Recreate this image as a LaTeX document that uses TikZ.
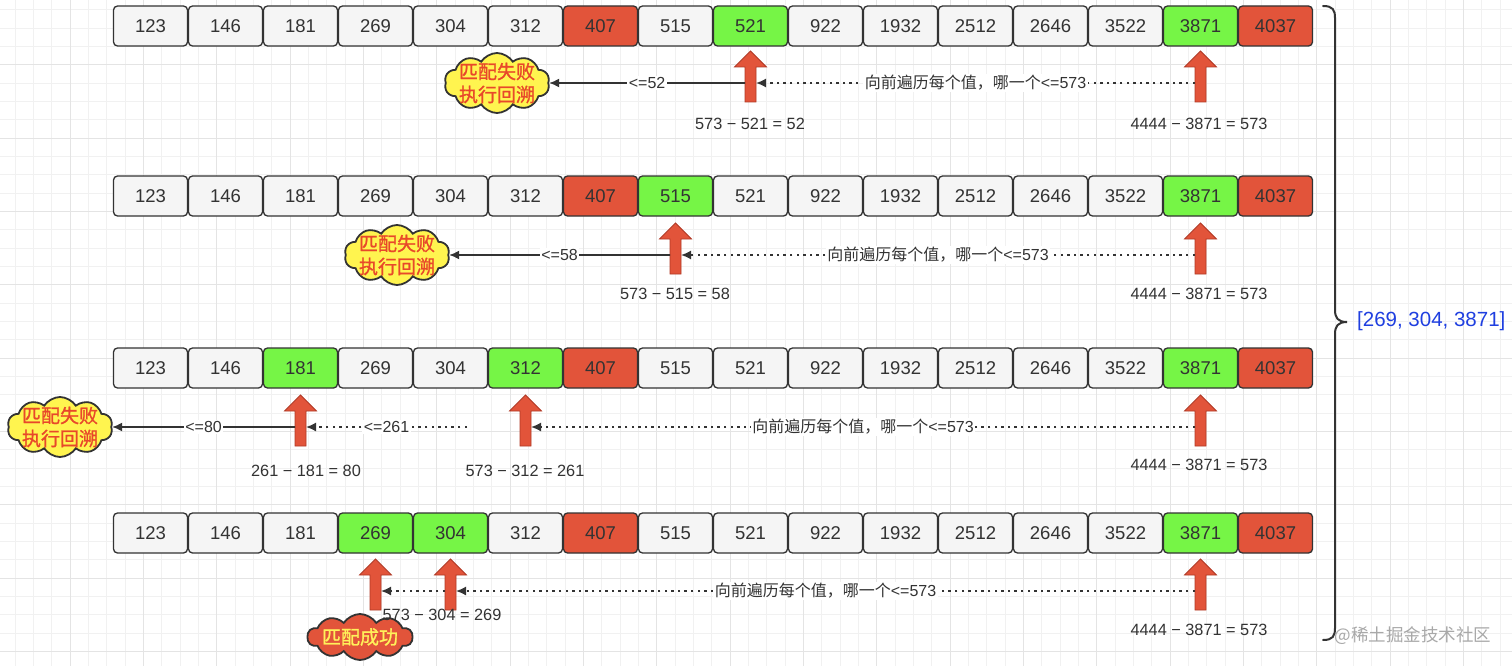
\documentclass[tikz,border=0pt]{standalone}
\usepackage{fontspec}
\setmainfont{Liberation Sans}
\newfontfamily\cjk{Noto Sans CJK SC}
\newfontfamily\cjkheavy[FakeBold=1.2]{Noto Sans CJK SC}
\usetikzlibrary{shapes.symbols,arrows.meta,calc}
\definecolor{boxgray}{HTML}{F5F5F5}
\definecolor{boxred}{HTML}{E2543A}
\definecolor{boxgreen}{HTML}{76F546}
\definecolor{ink}{HTML}{333333}
\definecolor{arrowedge}{HTML}{B03A26}
\definecolor{cloudyellow}{HTML}{FFF44F}
\definecolor{cloudtext}{HTML}{E8482A}
\definecolor{succtext}{HTML}{FFF15A}
\definecolor{resblue}{HTML}{1F3FE0}
\definecolor{gridminor}{HTML}{F1F1F1}
\definecolor{gridmajor}{HTML}{E4E4E4}
\definecolor{wmgray}{HTML}{A8A8A8}
\tikzset{
  cell/.style={draw=ink, line width=1.3pt, rounded corners=4pt, minimum width=74pt,
    minimum height=40pt, inner sep=0pt, font=\fontsize{18.5}{20}\selectfont, text=ink, fill=boxgray},
  redcell/.style={cell, fill=boxred},
  greencell/.style={cell, fill=boxgreen},
  arrowfill/.style={fill=boxred, draw=arrowedge, line width=0.8pt},
  solidconn/.style={draw=ink, line width=1.6pt, -{Latex[length=10pt,width=9pt]}},
  dotconn/.style={solidconn, dash pattern=on 2.4pt off 4.2pt},
  lbl/.style={fill=white, inner sep=1.5pt, text=ink, font=\fontsize{16}{18}\selectfont},
  calclbl/.style={text=ink, inner sep=0pt, font=\fontsize{16.3}{18}\selectfont},
  failcloud/.style={cloud, cloud puffs=10, cloud puff arc=115, draw=ink, line width=1.8pt,
    fill=cloudyellow, minimum width=105pt, minimum height=60pt, inner sep=0pt},
  cloudlbl/.style={text=cloudtext, align=center, inner sep=0pt,
    font=\cjkheavy\fontsize{19}{23}\selectfont},
  succcloud/.style={cloud, cloud puffs=10, cloud puff arc=115, draw=ink, line width=1.8pt,
    fill=boxred, minimum width=105pt, minimum height=46pt, inner sep=0pt},
  succlbl/.style={text=succtext, inner sep=0pt, font=\cjkheavy\fontsize{19}{22}\selectfont},
}
\newcommand{\blockarrow}[3]{%
  \begin{scope}[shift={(#2,#3)}]
    \filldraw[arrowfill] (-5.5,19) -- (-5.5,-16) -- (-16,-16) -- (0,-32) -- (16,-16)
      -- (5.5,-16) -- (5.5,19) -- cycle;
    \coordinate (#1w) at (-5.5,0);
    \coordinate (#1e) at (5.5,0);
  \end{scope}}
\newcommand{\scanlbl}{{\cjk 向前遍历每个值，哪一个}<=573}
\begin{document}
\begin{tikzpicture}[x=1pt,y=-1pt]
  \useasboundingbox (0,0) rectangle (1512,666);
  \fill[white] (0,0) rectangle (1512,666);
  % grid
  \foreach \k in {0,...,83}
    \draw[gridminor, line width=0.8pt] ({-3.3+18.333*\k},0) -- ({-3.3+18.333*\k},666);
  \foreach \k in {0,...,37}
    \draw[gridminor, line width=0.8pt] (0,{-8.7+18.333*\k}) -- (1512,{-8.7+18.333*\k});
  \foreach \k in {0,...,21}
    \draw[gridmajor, line width=0.9pt] ({-3.3+73.333*\k},0) -- ({-3.3+73.333*\k},666);
  \foreach \k in {0,...,9}
    \draw[gridmajor, line width=0.9pt] (0,{-8.7+73.333*\k}) -- (1512,{-8.7+73.333*\k});

  % rows of cells
  \foreach \v/\s [count=\i from 0] in {123/cell,146/cell,181/cell,269/cell,304/cell,312/cell,407/redcell,515/cell,521/greencell,922/cell,1932/cell,2512/cell,2646/cell,3522/cell,3871/greencell,4037/redcell}
    \node[\s] (r1c\i) at ({150.5+75*\i},26) {\v};
  \foreach \v/\s [count=\i from 0] in {123/cell,146/cell,181/cell,269/cell,304/cell,312/cell,407/redcell,515/greencell,521/cell,922/cell,1932/cell,2512/cell,2646/cell,3522/cell,3871/greencell,4037/redcell}
    \node[\s] (r2c\i) at ({150.5+75*\i},196) {\v};
  \foreach \v/\s [count=\i from 0] in {123/cell,146/cell,181/greencell,269/cell,304/cell,312/greencell,407/redcell,515/cell,521/cell,922/cell,1932/cell,2512/cell,2646/cell,3522/cell,3871/greencell,4037/redcell}
    \node[\s] (r3c\i) at ({150.5+75*\i},368) {\v};
  \foreach \v/\s [count=\i from 0] in {123/cell,146/cell,181/cell,269/greencell,304/greencell,312/cell,407/redcell,515/cell,521/cell,922/cell,1932/cell,2512/cell,2646/cell,3522/cell,3871/greencell,4037/redcell}
    \node[\s] (r4c\i) at ({150.5+75*\i},533) {\v};

  % ---------- row 1
  \blockarrow{a1x}{750.5}{83}
  \blockarrow{a1z}{1200.5}{83}
  \node[failcloud, label={[cloudlbl]center:匹配失败\\执行回溯}] (c1) at (497,83) {};
  \draw[dotconn] (a1zw) -- node[lbl] {\scanlbl} (a1xe);
  \draw[solidconn] (a1xw) -- node[lbl] {<=52} (c1);
  \node[calclbl] (t1a) at (750,124) {573 − 521 = 52};
  \node[calclbl] (t1b) at (1199,124) {4444 − 3871 = 573};

  % ---------- row 2
  \blockarrow{a2x}{675.5}{255}
  \blockarrow{a2z}{1200.5}{255}
  \node[failcloud, label={[cloudlbl]center:匹配失败\\执行回溯}] (c2) at (397,255) {};
  \draw[dotconn] (a2zw) -- node[lbl] {\scanlbl} (a2xe);
  \draw[solidconn] (a2xw) -- node[lbl] {<=58} (c2);
  \node[calclbl] (t2a) at (675,294) {573 − 515 = 58};
  \node[calclbl] (t2b) at (1199,294) {4444 − 3871 = 573};

  % ---------- row 3
  \blockarrow{a3x}{300.5}{427}
  \blockarrow{a3y}{525.5}{427}
  \blockarrow{a3z}{1200.5}{427}
  \coordinate (r3free) at (467,427);
  \node[failcloud, label={[cloudlbl]center:匹配失败\\执行回溯}] (c3) at (60,427) {};
  \draw[dotconn] (a3zw) -- node[lbl] {\scanlbl} (a3ye);
  \draw[dotconn] (r3free) -- node[lbl] {<=261} (a3xe);
  \draw[solidconn] (a3xw) -- node[lbl] {<=80} (c3);
  \node[calclbl] (t3a) at (306,471) {261 − 181 = 80};
  \node[calclbl] (t3b) at (525,471) {573 − 312 = 261};
  \node[calclbl] (t3c) at (1199,465) {4444 − 3871 = 573};

  % ---------- row 4
  \blockarrow{a4x}{375.5}{591}
  \blockarrow{a4y}{450.5}{591}
  \blockarrow{a4z}{1200.5}{591}
  \draw[dotconn] (a4zw) -- node[lbl] {\scanlbl} (a4ye);
  \draw[dotconn] (a4yw) -- (a4xe);
  \node[succcloud, label={[succlbl]center:匹配成功}] (c4) at (360,637) {};
  \node[calclbl] (t4a) at (442,615) {573 − 304 = 269};
  \node[calclbl] (t4b) at (1199,630) {4444 − 3871 = 573};

  % ---------- brace and result
  \draw[ink, line width=2pt, line cap=round] (1323,6) .. controls (1333,6) and (1335,10) .. (1335,18)
    -- (1335,310) .. controls (1335,318) and (1338,322) .. (1347,322)
    .. controls (1338,322) and (1335,326) .. (1335,334)
    -- (1335,628) .. controls (1335,636) and (1333,640) .. (1323,640);
  \coordinate (bracetip) at (1347,322);
  \node[text=resblue, font=\fontsize{20.5}{22}\selectfont, anchor=west, inner sep=0pt] (res) at (1357,321) {[269, 304, 3871]};
  \node[text=wmgray, font=\cjk\fontsize{17.5}{20}\selectfont, inner sep=0pt] (wm) at (1413,636) {@稀土掘金技术社区};
\end{tikzpicture}
\end{document}
